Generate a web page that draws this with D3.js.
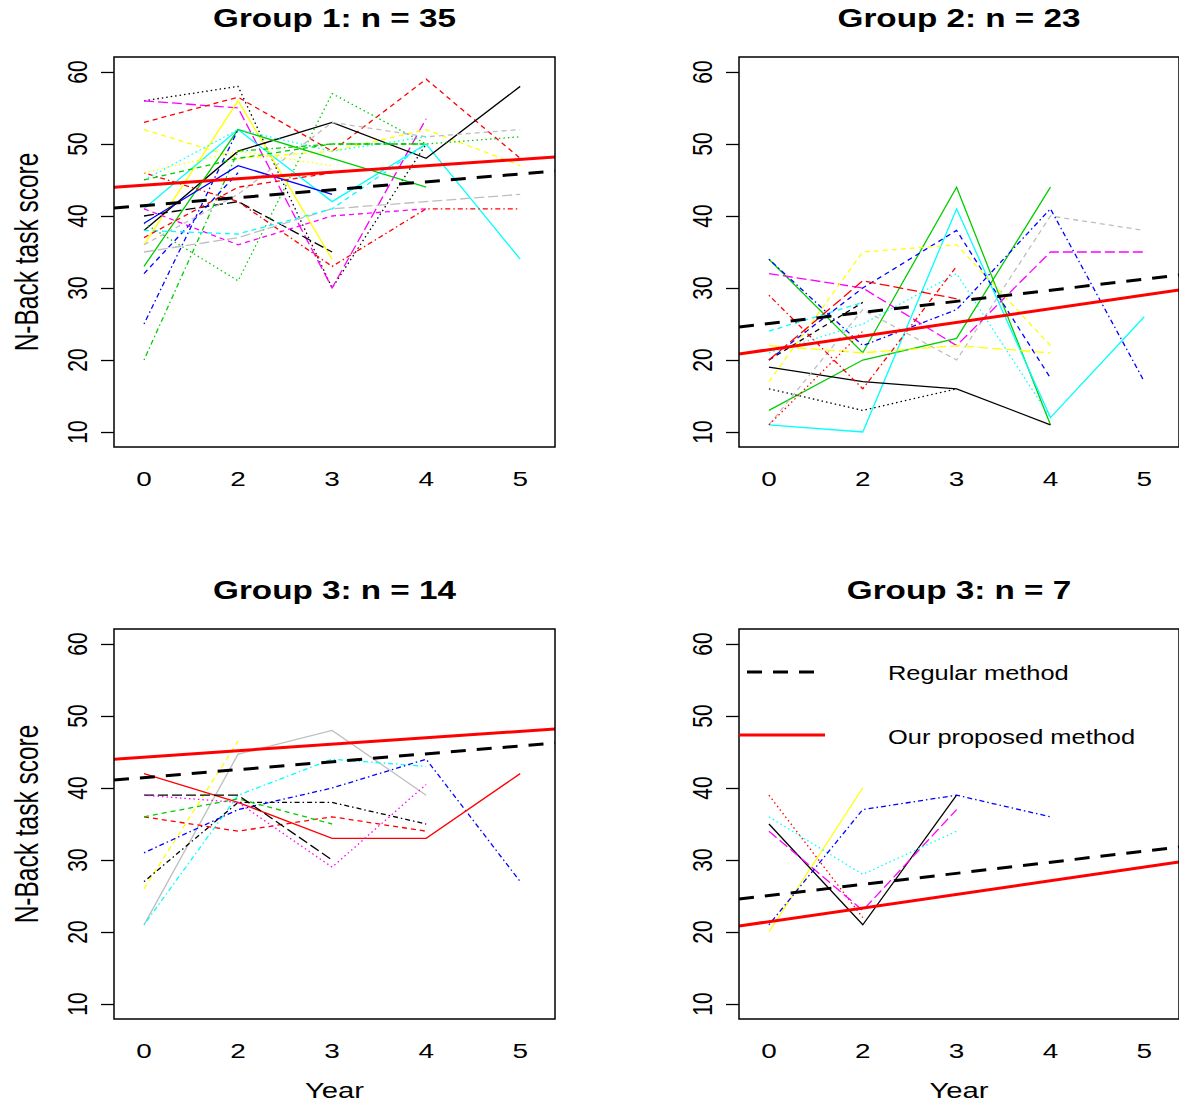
<!DOCTYPE html>
<html lang="en">
<head>
<meta charset="utf-8">
<title>N-Back task score by group</title>
<script src="https://cdn.jsdelivr.net/npm/d3@7"></script>
<style>
  body { margin: 0; background: #fff; }
  svg text { font-family: "Liberation Sans", Arial, sans-serif; fill: #000; }
</style>
</head>
<body>
<script>
// x axis is the visit number (0..4), labelled with the study year
var years = ["0", "2", "3", "4", "5"];
var yTicks = [10, 20, 30, 40, 50, 60];
var titles = ["Group 1: n = 35", "Group 2: n = 23", "Group 3: n = 14", "Group 3: n = 7"];

// N-Back scores per subject, one entry per visit (null = not seen)
var group1 = [
  [56, 58, 30, 50, null], [56, 55, 30, 53.5, null], [53, 56.5, 49, 59, 48],
  [36, 56, 34, null, null], [52, 48, 49, 52, 47], [41, 52, 42, 50, 34],
  [38, 49, 53, 48, 58], [40, 42, 35, null, null], [33, 52, 48, 44, null],
  [20, 49, 50, 50, null], [39, 31, 57, 50, 51], [25, 52, null, null, null],
  [32, 46, null, null, null], [39, 47, 43, null, null], [41, 36, 40, 41, null],
  [46, 42, 33, 41, 41], [36, 43, 53, 51, 52], [35, 37, 41, 42, 43],
  [38, 37.5, 41, 50, null], [45, 52, 49, 51, null], [45, 48, 50, 50, null],
  [46, 49, 47, null, null], [37, 44, 46, null, null]
];
var group2 = [
  [34, 21, 44, 11, null], [13, 20, 23, 44, null], [11, 10, 41, 12, 26],
  [24, 28, null, null, null], [21, 25, 32, 12, null], [19, 17, 16, 11, null],
  [16, 13, 16, null, null], [20, 28, null, null, null], [11, 27, 20, 40, 38],
  [34, 22, 27, 41, 17], [20, 30, 38, 17.5, null], [32, 30, 22, 35, 35],
  [17, 35, 36, 22, null], [22, 21, 22, 21, null], [29, 16, 33, null, null],
  [20, 31, 28.5, null, null], [11, 24, null, null, null]
];
var group3 = [
  [21, 44.7, 48, 39, null], [21, 39, 44, 43, null], [26, 46.5, null, null, null],
  [27, 38, 38, 35, null], [31, 37, 40, 44, 27], [42, 38, 33, 33, 42],
  [36, 34, 36, 34, null], [36, 38.5, 35, null, null], [39, 39, 30, null, null],
  [39, 38, 29, 40.5, null]
];
var group4 = [
  [20, 40, null, null, null], [39, 22, null, null, null], [35, 21, 39, null, null],
  [34, 23, 37, null, null], [36, 28, 34, null, null], [21, 37, 39, 36, null]
];

// colour / line type of each subject line (R palette names, lty names)
var group1Style = [
  ["k","dot"],["m","longdash"],["r","dash"],["y","solid"],["y","dash"],["c","solid"],
  ["k","solid"],["k","longdash"],["g","solid"],["g","dotdash"],["g","dot"],["b","dotdash"],
  ["b","dash"],["b","solid"],["m","dash"],["r","dotdash"],["s","dash"],["s","longdash"],
  ["c","dash"],["c","dot"],["g","dash"],["y","dot"],["r","dash"]
];
var group2Style = [
  ["g","solid"],["g","solid"],["c","solid"],["c","dash"],["c","dot"],["k","solid"],
  ["k","dot"],["k","dash"],["s","dash"],["b","dotdash"],["b","dash"],["m","longdash"],
  ["y","dash"],["y","longdash"],["r","dotdash"],["r","longdash"],["r","dot"]
];
var group3Style = [
  ["s","solid"],["c","dotdash"],["y","dash"],["k","dotdash"],["b","dotdash"],["r","solid"],
  ["r","dash"],["g","dash"],["k","longdash"],["m","dot"]
];
var group4Style = [
  ["y","solid"],["r","dot"],["k","solid"],["m","longdash"],["c","dot"],["b","dotdash"]
];

// fitted lines: [intercept at visit 0, slope per visit]
var regularFit  = [[41.45, 1.098], [25.07, 1.54], [41.45, 1.098], [25.07, 1.54]];
var proposedFit = [[44.29, 0.896], [21.44, 1.896], [44.29, 0.896], [21.44, 1.896]];
var legendLabels = ["Regular method", "Our proposed method"];

var groups = [group1, group2, group3, group4];
var styles = [group1Style, group2Style, group3Style, group4Style];

var pal = {k: "#000000", r: "#FF0000", g: "#00CD00", b: "#0000FF",
           c: "#00FFFF", m: "#FF00FF", y: "#FFFF00", s: "#BEBEBE"};
var dashes = {solid: null, dash: "5,4", dot: "1.5,3", dotdash: "1.5,3,5,3",
              longdash: "10,4", twodash: "3,3,8,3"};

var SX = 1.33; // the original picture is stretched sideways

var W = 1179, H = 1103;
var svg = d3.select("body").append("svg").attr("width", W).attr("height", H);

// panel boxes (left, top, right, bottom)
var boxes = [[114, 57, 555, 447], [739, 57, 1179, 447], [114, 629, 555, 1019], [739, 629, 1179, 1019]];

function stretchText(g, x, y, str, size, rot) {
  return g.append("text")
    .attr("transform", "translate(" + x + "," + y + ") scale(" + SX + ",1)" + (rot ? " rotate(-90)" : ""))
    .attr("text-anchor", "middle")
    .style("font-size", size + "px")
    .text(str);
}

boxes.forEach(function(b, p) {
  var g = svg.append("g");
  var x = d3.scaleLinear().domain([-0.319, 4.37]).range([b[0], b[2]]);
  var y = d3.scaleLinear().domain([7.92, 62.08]).range([b[3], b[1]]);

  g.append("clipPath").attr("id", "clip" + p)
    .append("rect").attr("x", b[0]).attr("y", b[1]).attr("width", b[2] - b[0]).attr("height", b[3] - b[1]);

  // y axis ticks
  var ya = g.append("g").attr("transform", "translate(" + b[0] + ",0)")
    .call(d3.axisLeft(y).tickValues(yTicks).tickSize(13).tickFormat(""));
  ya.select(".domain").remove();
  ya.selectAll(".tick line").attr("stroke", "#000").attr("stroke-width", 1.3);
  yTicks.forEach(function(t) {
    stretchText(g, b[0] - 27, y(t), String(t), 21, true);
  });

  // x labels (no tick marks in the original)
  years.forEach(function(lab, i) {
    stretchText(g, x(i), b[3] + 39, lab, 21, false);
  });

  // subject lines
  var line = d3.line()
    .defined(function(d) { return d != null; })
    .x(function(d, i) { return x(i); })
    .y(function(d) { return y(d); });

  var plot = g.append("g").attr("clip-path", "url(#clip" + p + ")");
  plot.selectAll("path.subj").data(groups[p]).enter().append("path")
    .attr("class", "subj")
    .attr("d", line)
    .attr("fill", "none")
    .attr("stroke", function(d, i) { return pal[styles[p][i][0]]; })
    .attr("stroke-width", 1.3)
    .attr("stroke-dasharray", function(d, i) { return dashes[styles[p][i][1]]; });

  // fitted lines
  var dom = x.domain();
  function fitLine(f) {
    return [[x(dom[0]), y(f[0] + f[1] * dom[0])], [x(dom[1]), y(f[0] + f[1] * dom[1])]];
  }
  plot.append("path").attr("d", d3.line()(fitLine(regularFit[p])))
    .attr("stroke", "#000").attr("stroke-width", 3).attr("stroke-dasharray", "15,11").attr("fill", "none");
  plot.append("path").attr("d", d3.line()(fitLine(proposedFit[p])))
    .attr("stroke", "#FF0000").attr("stroke-width", 3).attr("fill", "none");

  // box
  g.append("rect").attr("x", b[0]).attr("y", b[1]).attr("width", b[2] - b[0]).attr("height", b[3] - b[1])
    .attr("fill", "none").attr("stroke", "#000").attr("stroke-width", 1.5);

  // title
  stretchText(g, (b[0] + b[2]) / 2, b[1] - 30, titles[p], 25, false).style("font-weight", "bold");

  if (p % 2 === 0) {
    stretchText(g, b[0] - 76, (b[1] + b[3]) / 2, "N-Back task score", 24.5, true);
  }
  if (p >= 2) {
    stretchText(g, (b[0] + b[2]) / 2, b[3] + 79, "Year", 22, false);
  }

  if (p === 3) {
    // legend
    var lg = g.append("g");
    lg.append("line").attr("x1", 747).attr("x2", 815).attr("y1", 672).attr("y2", 672)
      .attr("stroke", "#000").attr("stroke-width", 3).attr("stroke-dasharray", "15,11");
    lg.append("line").attr("x1", 739).attr("x2", 825).attr("y1", 735).attr("y2", 735)
      .attr("stroke", "#FF0000").attr("stroke-width", 3);
    [680, 744].forEach(function(yy, i) {
      lg.append("text")
        .attr("transform", "translate(888," + yy + ") scale(1.27,1)")
        .style("font-size", "20px")
        .text(legendLabels[i]);
    });
  }
});
</script>
</body>
</html>
